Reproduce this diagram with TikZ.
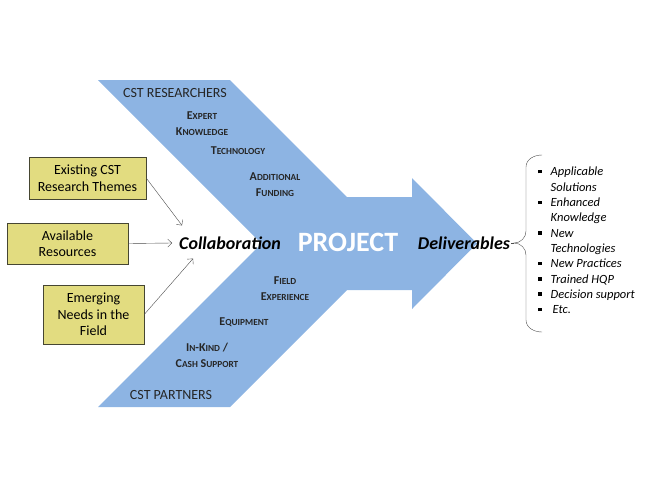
\documentclass[tikz,border=0pt]{standalone}
\usepackage{fontspec}
\setmainfont{Carlito}
\usetikzlibrary{arrows.meta,positioning}
\definecolor{bandblue}{RGB}{141,180,227}
\definecolor{themefill}{RGB}{226,220,128}
\definecolor{themeline}{RGB}{70,70,50}
% fake small caps: first letter, then the rest smaller
\newcommand{\fsc}[2]{#1{\fontsize{9.3}{10}\selectfont #2}}
\newcommand{\sqbul}{\rule[2.5pt]{3.5pt}{3.5pt}}

\begin{document}
\begin{tikzpicture}[x=1pt, y=-1pt,
    theme/.style={draw=themeline, fill=themefill, align=center, inner sep=2pt,
      font=\fontsize{14}{16.5}\selectfont},
    party/.style={font=\fontsize{14}{16}\selectfont, text=black!85},
    input/.style={font=\fontsize{12}{16}\selectfont\bfseries, align=center, text=black!85},
    big/.style={font=\fontsize{18}{20}\selectfont\bfseries\itshape, inner sep=1pt},
    arr/.style={-{Straight Barb[length=4pt,width=8pt]}, draw=black!70, thin}]
  \useasboundingbox (0,0) rectangle (651,488);
  % the chevron arrow
  \fill[bandblue] (98,80) -- (230,80) -- (347,197) -- (412,197) -- (412,178)
    -- (477,243.5) -- (412,309) -- (412,290) -- (347,290) -- (230,407)
    -- (98,407) -- (261.5,243.5) -- cycle;
  \node[party] (res) at (175,93) {CST RESEARCHERS};
  \node[input] (expert) at (202,124) {\fsc{E}{XPERT}\\\fsc{K}{NOWLEDGE}};
  \node[input] (tech) at (238,151) {\fsc{T}{ECHNOLOGY}};
  \node[input] (fund) at (275,184.5) {\fsc{A}{DDITIONAL}\\\fsc{F}{UNDING}};
  \node[input] (field) at (285,288.5) {\fsc{F}{IELD}\\\fsc{E}{XPERIENCE}};
  \node[input] (equip) at (244,322) {\fsc{E}{QUIPMENT}};
  \node[input] (kind) at (207,355) {\fsc{I}{N}-\fsc{K}{IND} /\\\fsc{C}{ASH} \fsc{S}{UPPORT}};
  \node[party] (part) at (171,395) {CST PARTNERS};

  \node[big] (collab) at (230,243) {Collaboration};
  \node[font=\fontsize{28}{30}\selectfont\bfseries, text=white] (proj) at (348,242) {PROJECT};
  \node[big] (deliv) at (464,243) {Deliverables};

  \node[theme, minimum width=117pt, minimum height=42pt] (themes) at (87.5,178) {Existing CST\\Research Themes};
  \node[theme, minimum width=121pt, minimum height=41pt] (avail) at (67.5,243.5) {Available\\Resources};
  \node[theme, minimum width=101pt, minimum height=59pt] (needs) at (93.5,314.5) {Emerging\\Needs in the\\Field};

  \draw[arr] (themes.east) -- ([xshift=4pt,yshift=10pt]collab.north west);
  \draw[arr] (avail.east) -- ([xshift=-6pt]collab.west);
  \draw[arr] (needs.east) -- ([xshift=15pt,yshift=-8pt]collab.south west);

  % brace and list
  \coordinate (cusp) at (514,243);
  \draw[black!70, thin] (542,155) to[out=180,in=90] (526,167) -- (526,231)
    to[out=-90,in=0] (cusp) to[out=0,in=90] (526,255) -- (526,320)
    to[out=-90,in=180] (542,332);
  \draw[black!70, thin] (deliv.east) -- (cusp);
  \node[anchor=north west, inner sep=0pt, font=\fontsize{12.5}{15.3}\selectfont\itshape] (list) at (538,165)
    {\begin{tabular}{@{}l@{\hspace{9pt}}l@{}}
      \sqbul & Applicable\\
             & Solutions\\
      \sqbul & Enhanced\\
             & Knowledge\\
      \sqbul & New\\
             & Technologies\\
      \sqbul & New Practices\\
      \sqbul & Trained HQP\\
      \sqbul & Decision support\\
      \sqbul & \hspace{2pt}Etc.
    \end{tabular}};
\end{tikzpicture}
\end{document}
